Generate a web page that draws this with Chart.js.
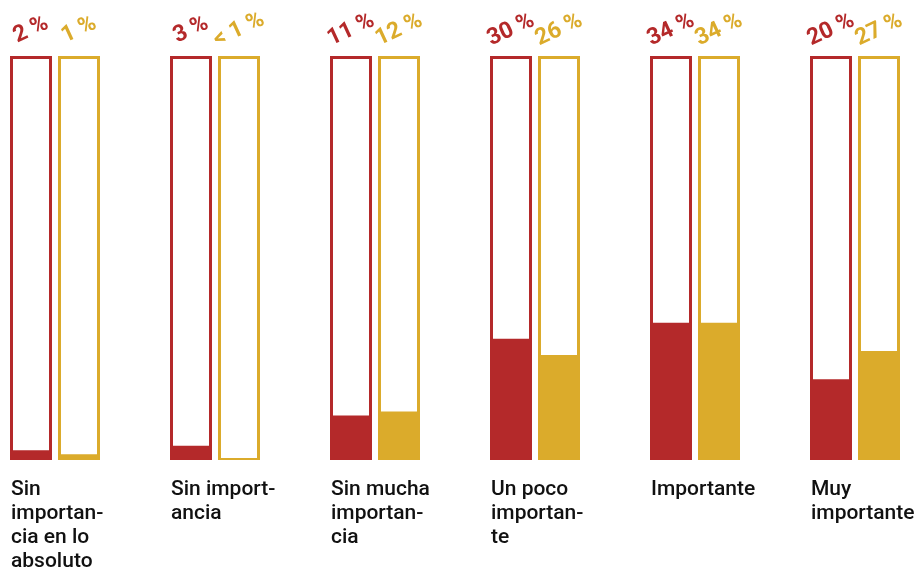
<!DOCTYPE html>
<html>
<head>
<meta charset="utf-8">
<script src="https://cdn.jsdelivr.net/npm/chart.js@4.4.0/dist/chart.umd.min.js"></script>
<style>
  html, body { margin: 0; padding: 0; background: #ffffff; }
  #wrap { width: 914px; height: 570px; position: relative; }
</style>
</head>
<body>
<div id="wrap"><canvas id="c"></canvas></div>
<script>
const categories = [
  ["Sin", "importan-", "cia en lo", "absoluto"],
  ["Sin import-", "ancia"],
  ["Sin mucha", "importan-", "cia"],
  ["Un poco", "importan-", "te"],
  ["Importante"],
  ["Muy", "importante"]
];
const redValues = [2.4, 3.5, 11, 30, 34, 20];
const yellowValues = [1.4, 0.5, 12, 26, 34, 27];
const fullScale = [100, 100, 100, 100, 100, 100];
const redLabels = ["2 %", "3 %", "11 %", "30 %", "34 %", "20 %"];
const yellowLabels = ["1 %", "< 1 %", "12 %", "26 %", "34 %", "27 %"];

const RED = "#b4292a";
const YELLOW = "#dbab2b";

const topLabels = {
  id: "topLabels",
  afterDatasetsDraw(chart) {
    const ctx = chart.ctx;
    const sets = [[2, redLabels, RED], [3, yellowLabels, YELLOW]];
    ctx.save();
    ctx.font = "bold 23px Roboto";
    ctx.textAlign = "center";
    ctx.textBaseline = "middle";
    for (const [di, labels, color] of sets) {
      const meta = chart.getDatasetMeta(di);
      meta.data.forEach((el, i) => {
        ctx.save();
        ctx.translate(el.x, el.y - 26);
        ctx.rotate(-25 * Math.PI / 180);
        ctx.fillStyle = color;
        ctx.fillText(labels[i], 0, 0);
        ctx.restore();
      });
    }
    ctx.restore();
  }
};

new Chart(document.getElementById("c"), {
  type: "bar",
  data: {
    labels: categories,
    datasets: [
      { data: redValues, backgroundColor: RED, borderWidth: 0, stack: "r", order: 1 },
      { data: yellowValues, backgroundColor: YELLOW, borderWidth: 0, stack: "y", order: 1 },
      { data: fullScale, backgroundColor: "#ffffff", borderColor: RED, borderWidth: 3, stack: "r", order: 2 },
      { data: fullScale, backgroundColor: "#ffffff", borderColor: YELLOW, borderWidth: 3, stack: "y", order: 2 }
    ]
  },
  options: {
    responsive: true,
    maintainAspectRatio: false,
    animation: false,
    devicePixelRatio: 1,
    layout: { padding: { top: 56, left: 55, right: 59, bottom: 0 } },
    datasets: { bar: { categoryPercentage: 0.6, barPercentage: 0.875, clip: false } },
    plugins: { legend: { display: false }, tooltip: { enabled: false } },
    scales: {
      x: {
        offset: false,
        grid: { display: false, drawTicks: false },
        border: { display: false },
        ticks: {
          align: "start",
          labelOffset: -44,
          padding: 18,
          color: "#111111",
          font: { family: "Roboto", size: 21, weight: "500", lineHeight: 1.143 },
          maxRotation: 0,
          autoSkip: false
        },
        afterFit(s) { s.height = 110; s.paddingLeft = 0; s.paddingRight = 0; }
      },
      y: {
        display: false,
        stacked: false,
        min: 0,
        max: 100
      }
    }
  },
  plugins: [topLabels]
});
</script>
</body>
</html>
